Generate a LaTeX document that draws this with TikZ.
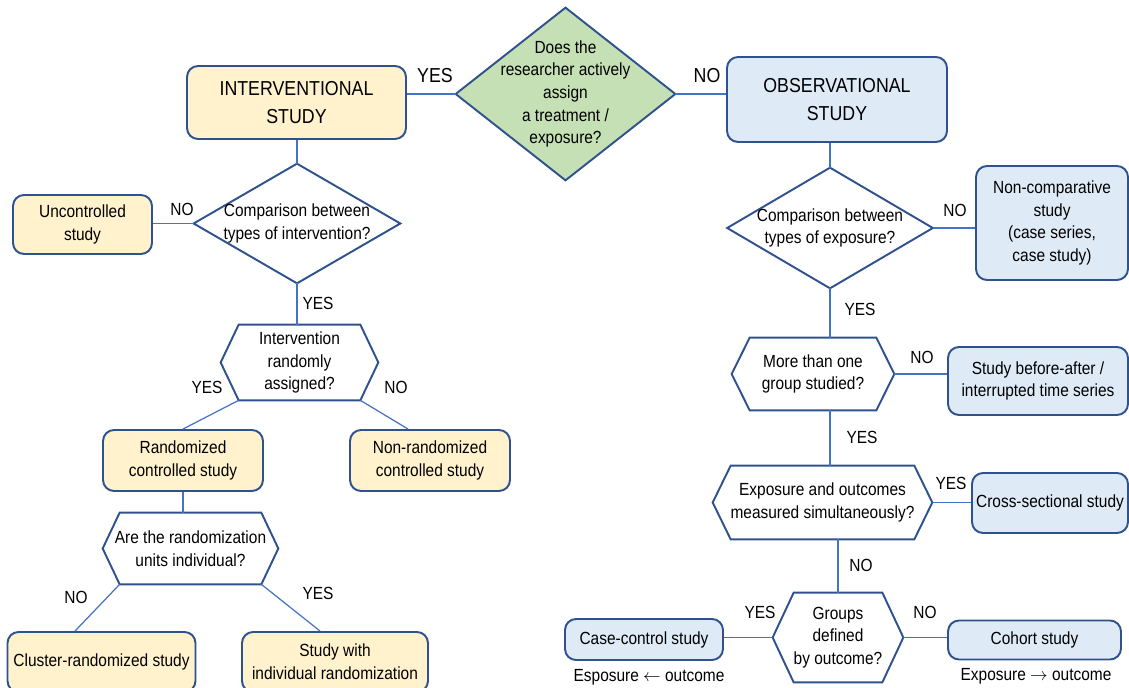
\documentclass[tikz,border=0pt]{standalone}
\usepackage{fontspec}
\setmainfont{Liberation Sans}[FakeStretch=0.88]
\usepackage{tikz}
\usetikzlibrary{backgrounds}

\definecolor{boxline}{HTML}{2F528F}
\definecolor{conline}{HTML}{4472C4}
\definecolor{yelfill}{HTML}{FFF2CC}
\definecolor{blufill}{HTML}{DEEBF7}
\definecolor{grnfill}{HTML}{C5E0B4}

% outlines of the question shapes, drawn round their nodes
\newcommand{\diaoutline}[2]{%
  \filldraw[decline,fill=#2] (#1.north) -- (#1.east) -- (#1.south) -- (#1.west) -- cycle;}
\newcommand{\hexoutline}[2]{%
  \draw[decline] (#1.west) -- ([xshift=#2]#1.north west) -- ([xshift=-#2]#1.north east)
    -- (#1.east) -- ([xshift=-#2]#1.south east) -- ([xshift=#2]#1.south west) -- cycle;}

\begin{document}
\begin{tikzpicture}[x=0.02cm,y=-0.02cm,
  every node/.style={font=\fontsize{10}{12.9}\selectfont,align=center},
  bigtxt/.style={font=\fontsize{11.5}{16}\selectfont},
  box/.style={draw=boxline,line width=1.1pt,rounded corners=0.22cm,inner sep=0pt},
  ybox/.style={box,fill=yelfill},
  bbox/.style={box,fill=blufill},
  quest/.style={inner sep=0pt},
  decline/.style={draw=boxline,line width=1.1pt},
  con/.style={draw=conline,line width=0.7pt}]

\path[use as bounding box] (0,0) rectangle (1129,688);
\clip (0,0) rectangle (1129,688);

% top question
\node[quest,minimum width=4.38cm,minimum height=3.44cm] (assign) at (565.5,94)
  {Does the\\researcher actively\\assign\\a treatment /\\exposure?};
\node[ybox,bigtxt,minimum width=4.38cm,minimum height=1.46cm] (interv) at (296.5,102.5) {INTERVENTIONAL\\STUDY};
\node[bbox,bigtxt,minimum width=4.4cm,minimum height=1.7cm] (observ) at (837,99.5) {OBSERVATIONAL\\STUDY};

% interventional side
\node[ybox,minimum width=2.78cm,minimum height=1.18cm] (uncontr) at (82.5,224.5) {Uncontrolled\\study};
\node[quest,minimum width=4.12cm,minimum height=2.38cm] (compint) at (297,223.5) {Comparison between\\types of intervention?};
\node[quest,minimum width=3.14cm,minimum height=1.5cm] (randq) at (299.5,362.5) {Intervention\\randomly\\assigned?};
\node[ybox,minimum width=3.2cm,minimum height=1.22cm] (random) at (183,460.5) {Randomized\\controlled study};
\node[ybox,minimum width=3.2cm,minimum height=1.22cm] (nonrand) at (430,460.5) {Non-randomized\\controlled study};
\node[quest,minimum width=3.5cm,minimum height=1.42cm] (unitq) at (190.5,548.5) {Are the randomization\\units individual?};
\node[ybox,minimum width=3.76cm,minimum height=1.2cm] (cluster) at (101.5,662) {Cluster-randomized study};
\node[ybox,minimum width=3.72cm,minimum height=1.2cm] (indiv) at (335,662) {Study with\\individual randomization};

% observational side
\node[quest,minimum width=4.1cm,minimum height=2.4cm] (compexp) at (830,228) {Comparison between\\types of exposure?};
\node[bbox,minimum width=3.04cm,minimum height=2.28cm] (noncomp) at (1052,223) {Non-comparative\\study\\(case series,\\case study)};
\node[quest,minimum width=3.24cm,minimum height=1.44cm] (moreq) at (813,374) {More than one\\group studied?};
\node[bbox,minimum width=3.6cm,minimum height=1.36cm] (before) at (1038,381) {Study before-after /\\interrupted time series};
\node[quest,minimum width=4.38cm,minimum height=1.46cm] (simulq) at (822.5,502.5) {Exposure and outcomes\\measured simultaneously?};
\node[bbox,minimum width=3.12cm,minimum height=1.2cm] (cross) at (1050,503) {Cross-sectional study};
\node[quest,minimum width=2.6cm,minimum height=1.78cm] (groupq) at (838,637.5) {Groups\\defined\\by outcome?};
\node[bbox,minimum width=3.16cm,minimum height=0.82cm] (casectl) at (644,639.5) {Case-control study};
\node[bbox,minimum width=3.46cm,minimum height=0.78cm] (cohort) at (1034.5,640) {Cohort study};
\node (esp) at (649,677) {Esposure $\leftarrow$ outcome};
\node (expo) at (1036,676) {Exposure $\rightarrow$ outcome};

\begin{scope}[on background layer]
\diaoutline{assign}{grnfill}
\diaoutline{compint}{white}
\diaoutline{compexp}{white}
\hexoutline{randq}{0.36cm}
\hexoutline{unitq}{0.34cm}
\hexoutline{moreq}{0.36cm}
\hexoutline{simulq}{0.36cm}
\hexoutline{groupq}{0.42cm}
\end{scope}

% connectors
\draw[con] (assign.west) -- (assign.west -| interv.east);
\draw[con] (assign.east) -- (assign.east -| observ.west);
\draw[con] (compint.north) -- (compint.north |- interv.south);
\draw[con] (compint.west) -- (compint.west -| uncontr.east);
\draw[con] (compint.south) -- (compint.south |- randq.north);
\draw[con] ([xshift=0.36cm]randq.south west) -- (random.north);
\draw[con] ([xshift=-0.36cm]randq.south east) -- ([xshift=-0.44cm]nonrand.north);
\draw[con] (random.south) -- (random.south |- unitq.north);
\draw[con] ([xshift=0.34cm]unitq.south west) -- ([xshift=-0.53cm]cluster.north);
\draw[con] ([xshift=-0.34cm]unitq.south east) -- ([xshift=-0.3cm]indiv.north);
\draw[con] (compexp.north) -- (compexp.north |- observ.south);
\draw[con] (compexp.east) -- (compexp.east -| noncomp.west);
\draw[con] (compexp.south) -- (compexp.south |- moreq.north);
\draw[con] (moreq.east) -- (moreq.east -| before.west);
\draw[con] (moreq.south -| compexp.south) -- (simulq.north -| compexp.south);
\draw[con] (simulq.east) -- (simulq.east -| cross.west);
\draw[con] (groupq.north) -- (groupq.north |- simulq.south);
\draw[con] (groupq.west) -- (groupq.west -| casectl.east);
\draw[con] (groupq.east) -- (groupq.east -| cohort.west);

% answers
\node[bigtxt] (yesa) at (435,76) {YES};
\node[bigtxt] (noa) at (707,76) {NO};
\node (nob) at (182,209) {NO};
\node (yesb) at (318,303) {YES};
\node (yesc) at (207,387) {YES};
\node (noc) at (396,387) {NO};
\node (nod) at (76,597) {NO};
\node (yesd) at (318,593) {YES};
\node (noe) at (955,210) {NO};
\node (yese) at (860,309) {YES};
\node (nof) at (922,357) {NO};
\node (yesf) at (862,437) {YES};
\node (yesg) at (951,483) {YES};
\node (nog) at (861,565) {NO};
\node (yesh) at (760,612) {YES};
\node (noh) at (925,612) {NO};

\end{tikzpicture}
\end{document}
